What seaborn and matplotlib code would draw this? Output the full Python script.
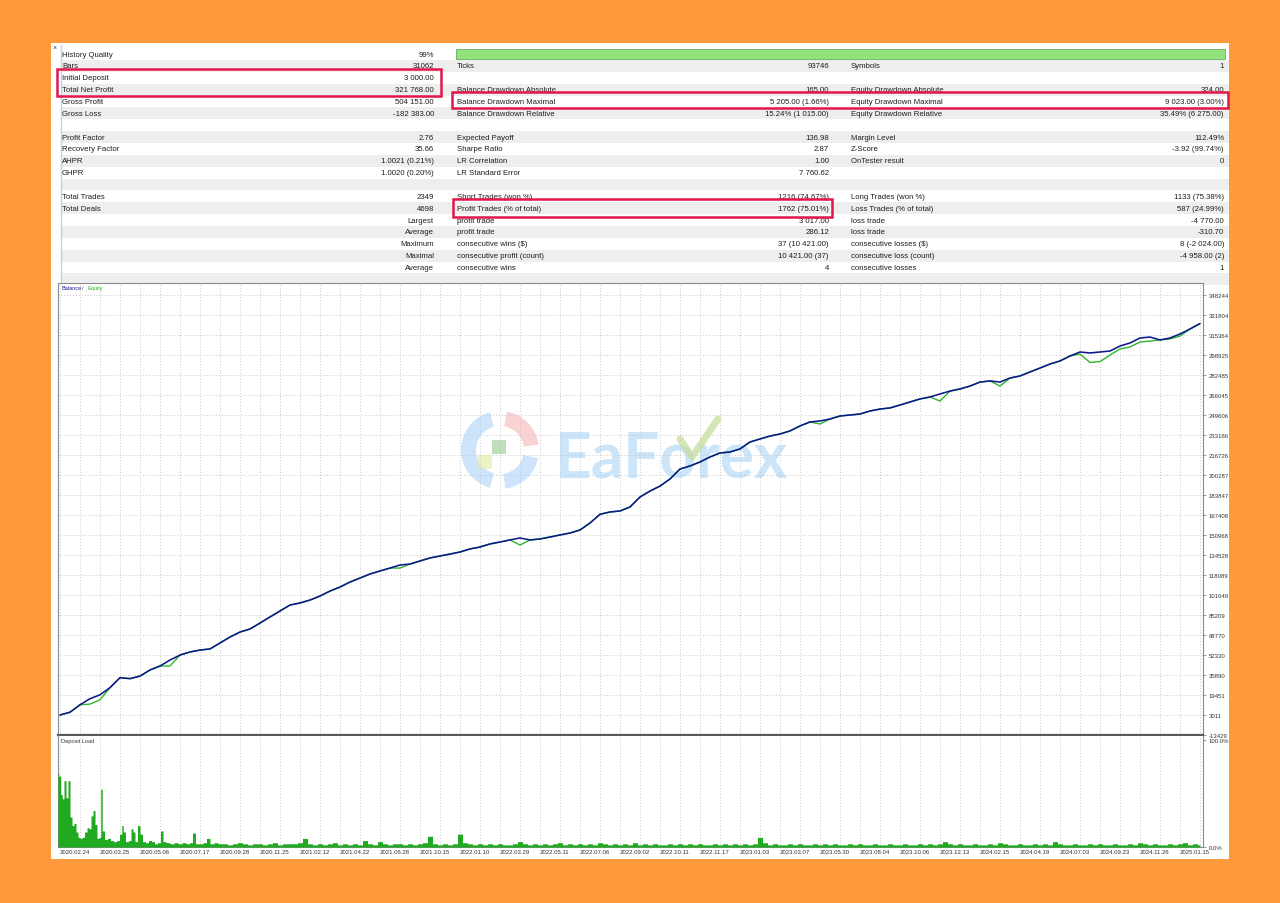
import numpy as np
import pandas as pd
import matplotlib
matplotlib.use("Agg")
import matplotlib.pyplot as plt
from matplotlib.patches import Rectangle, Wedge
import seaborn as sns

# ---------------------------------------------------------------- data
date_labels = ["2020.02.24", "2020.03.25", "2020.05.06", "2020.07.17", "2020.09.28",
               "2020.11.25", "2021.02.12", "2021.04.22", "2021.06.28", "2021.10.15",
               "2022.01.10", "2022.03.29", "2022.05.11", "2022.07.06", "2022.09.02",
               "2022.10.11", "2022.11.17", "2023.01.03", "2023.03.07", "2023.05.30",
               "2023.08.04", "2023.10.06", "2023.12.13", "2024.02.15", "2024.04.19",
               "2024.07.03", "2024.09.23", "2024.11.26", "2025.01.15"]

price_tick_labels = ["348244", "331804", "315364", "298925", "282485", "266045", "249606",
                     "233166", "216726", "200287", "183847", "167408", "150968", "134528",
                     "118089", "101649", "85209", "68770", "52330", "35890", "19451",
                     "3011", "-13429"]

# balance curve, one value per step of the deal axis
balance = [3000, 5300, 11400, 16400, 19600, 25500, 33700, 32900, 35000, 40000,
           43300, 48200, 52300, 54800, 56400, 57300, 62200, 67100, 71200, 73700,
           78600, 83600, 88500, 93400, 95100, 97500, 100800, 104900, 108200, 112300,
           115600, 118900, 121400, 123800, 126300, 127100, 129600, 132100, 133700, 135300,
           137000, 139500, 141100, 143600, 145200, 146900, 148500, 146900, 147700, 149300,
           151000, 152600, 155100, 160800, 168000, 169900, 170700, 174000, 182200, 187100,
           191200, 197000, 205200, 207700, 211000, 215100, 218400, 219200, 221700, 227400,
           229900, 232300, 234000, 236500, 240600, 243900, 244700, 246300, 248800, 249600,
           250400, 252900, 254500, 255400, 257800, 260300, 262800, 264400, 266900, 269300,
           271000, 273400, 276700, 277600, 276700, 280000, 281700, 285000, 288200, 291500,
           294000, 298100, 301400, 300600, 301400, 302200, 306300, 308800, 312900, 313700,
           311300, 312900, 316200, 320300, 324768]

equity = [3000, 5300, 11400, 12000, 15500, 25500, 33700, 32900, 35000, 40000,
          43300, 43300, 52300, 54800, 56400, 57300, 62200, 67100, 71200, 73700,
          78600, 83600, 88500, 93400, 95100, 97500, 100800, 104900, 108200, 112300,
          115600, 118900, 121400, 123800, 123800, 127100, 129600, 132100, 133700, 135300,
          137000, 139500, 141100, 143600, 145200, 146900, 142700, 146900, 147700, 149300,
          151000, 152600, 155100, 160800, 168000, 169900, 170700, 174000, 182200, 187100,
          191200, 197000, 205200, 207700, 211000, 215100, 218400, 219200, 221700, 227400,
          229900, 232300, 234000, 236500, 240600, 243900, 242200, 246300, 248800, 249600,
          250400, 252900, 254500, 255400, 257800, 260300, 262800, 264400, 261100, 269300,
          271000, 273400, 276700, 277600, 273400, 280000, 281700, 285000, 288200, 291500,
          294000, 298100, 299700, 292800, 293500, 298900, 303900, 305500, 309600, 310400,
          311300, 312100, 314500, 320300, 324768]

# deposit load (%) : dense early part (deal-axis position, value) ...
load_early_pos = [-0.2, 0.0, 0.15, 0.3, 0.5, 0.7, 0.9, 1.1, 1.3, 1.5, 1.7, 1.9, 2.1, 2.3,
                  2.6, 2.8, 3.0, 3.2, 3.4, 3.6, 3.8, 4.0, 4.15, 4.3, 4.6, 4.9, 5.2, 5.5,
                  5.8, 6.1, 6.25, 6.4, 6.7, 7.0, 7.2, 7.4, 7.6, 7.9, 8.1, 8.4, 8.7, 9.0,
                  9.3, 9.6, 9.9, 10.2, 10.4, 10.8, 11.2, 11.6, 12.0, 12.4, 12.8, 13.1,
                  13.4, 13.7, 14.1, 14.5, 14.8, 15.2, 15.6, 16.0]
load_early_pct = [68, 66, 49, 45, 62, 46, 62, 28, 20, 22, 14, 9, 8, 9,
                  14, 18, 17, 29, 34, 21, 8, 9, 54, 15, 7, 8, 6, 5,
                  6, 12, 20, 14, 5, 6, 17, 14, 5, 20, 12, 5, 4, 6,
                  5, 3, 4, 15, 5, 4, 3, 4, 3, 4, 3, 4,
                  13, 3, 3, 4, 8, 3, 4, 3]
# ... and the later part, one value every half step from 16.5 to 114
load_late_pct = [3, 2, 3, 4, 3, 2, 3, 3, 2, 3, 4, 2, 3, 3, 3,
                 4, 8, 3, 2, 3, 2, 3, 4, 2, 3, 2, 3, 2, 6, 3, 2, 5, 3, 2, 3,
                 3, 2, 3, 2, 3, 4, 10, 3, 2, 3, 2, 3, 12, 4, 3, 2, 3, 2, 3, 2,
                 3, 2, 2, 3, 5, 3, 2, 3, 2, 3, 2, 3, 4, 2, 3, 2, 3, 2, 3, 2,
                 4, 3, 2, 3, 2, 3, 2, 4, 2, 3, 2, 3, 2, 2, 3, 2, 3, 2, 3, 2,
                 3, 2, 2, 3, 2, 3, 2, 3, 2, 3, 2, 3, 9, 4, 2, 3, 2, 2, 3, 2,
                 3, 2, 2, 3, 2, 3, 2, 3, 2, 2, 3, 2, 3, 2, 2, 3, 2, 2, 3, 2,
                 2, 3, 2, 2, 3, 2, 3, 2, 3, 5, 3, 2, 3, 2, 2, 3, 2, 2, 3, 2,
                 4, 3, 2, 2, 3, 2, 2, 3, 2, 3, 2, 5, 3, 2, 2, 3, 2, 2, 3, 2,
                 3, 2, 2, 3, 2, 2, 3, 2, 4, 3, 2, 3, 2, 2, 3, 2, 3, 4, 2, 3,
                 2]

# statistics table
left_labels = ["History Quality", "Bars", "Initial Deposit", "Total Net Profit", "Gross Profit",
               "Gross Loss", "", "Profit Factor", "Recovery Factor", "AHPR", "GHPR", "",
               "Total Trades", "Total Deals", "", "", "", "", ""]
left_values = ["99%", "31062", "3 000.00", "321 768.00", "504 151.00", "-182 383.00", "",
               "2.76", "35.66", "1.0021 (0.21%)", "1.0020 (0.20%)", "", "2349", "4698",
               "Largest", "Average", "Maximum", "Maximal", "Average"]
mid_labels = ["", "Ticks", "", "Balance Drawdown Absolute", "Balance Drawdown Maximal",
              "Balance Drawdown Relative", "", "Expected Payoff", "Sharpe Ratio",
              "LR Correlation", "LR Standard Error", "", "Short Trades (won %)",
              "Profit Trades (% of total)", "profit trade", "profit trade",
              "consecutive wins ($)", "consecutive profit (count)", "consecutive wins"]
mid_values = ["", "93746", "", "165.00", "5 205.00 (1.66%)", "15.24% (1 015.00)", "",
              "136.98", "2.87", "1.00", "7 760.62", "", "1216 (74.67%)", "1762 (75.01%)",
              "3 017.00", "286.12", "37 (10 421.00)", "10 421.00 (37)", "4"]
right_labels = ["", "Symbols", "", "Equity Drawdown Absolute", "Equity Drawdown Maximal",
                "Equity Drawdown Relative", "", "Margin Level", "Z-Score", "OnTester result",
                "", "", "Long Trades (won %)", "Loss Trades (% of total)", "loss trade",
                "loss trade", "consecutive losses ($)", "consecutive loss (count)",
                "consecutive losses"]
right_values = ["", "1", "", "324.00", "9 023.00 (3.00%)", "35.49% (6 275.00)", "",
                "112.49%", "-3.92 (99.74%)", "0", "", "", "1133 (75.38%)", "587 (24.99%)",
                "-4 770.00", "-310.70", "8 (-2 024.00)", "-4 958.00 (2)", "1"]

# ---------------------------------------------------------------- style
sns.set_style("white")
plt.rcParams["font.family"] = ["Liberation Sans", "DejaVu Sans"]

W, H = 1280, 904
fig = plt.figure(figsize=(W / 100, H / 100), dpi=100)
fig.patch.set_facecolor("#FF9A3C")


def box(x0, y0, x1, y1):
    return [x0 / W, 1 - y1 / H, (x1 - x0) / W, (y1 - y0) / H]


# background layer (pixel coordinates)
bg = fig.add_axes([0, 0, 1, 1], zorder=0)
bg.set_xlim(0, W)
bg.set_ylim(H, 0)
bg.axis("off")
bg.add_patch(Rectangle((51, 44), 1178, 816, fc="white", ec="none"))

ROW0, ROWH = 49.2, 11.85
for r in range(20):
    if r % 2:
        bg.add_patch(Rectangle((61, ROW0 + r * ROWH), 1168, ROWH, fc="#EEEEEE", ec="none"))
bg.plot([60.5, 60.5], [46, 283], color="#BCD4EC", lw=1.0)
bg.text(55, 48, "×", fontsize=5, ha="center", va="center", color="#333333")

# progress bar of history quality
bg.add_patch(Rectangle((456, 49.5), 769, 10, fc="#93E37D", ec="#6DAA60", lw=0.6))

FS = 5.6
TC = "#1E1E1E"


def row_y(r):
    return ROW0 + (r + 0.5) * ROWH


for labels, values, xl, xr in [(left_labels, left_values, 62, 434),
                               (mid_labels, mid_values, 457, 829),
                               (right_labels, right_values, 851, 1224)]:
    for r, (lab, val) in enumerate(zip(labels, values)):
        if lab:
            bg.text(xl, row_y(r), lab, ha="left", va="center", fontsize=FS, color=TC)
        if val:
            bg.text(xr, row_y(r), val, ha="right", va="center", fontsize=FS, color=TC)

# ---------------------------------------------------------------- balance / equity chart
ax = fig.add_axes(box(58, 284, 1203, 736), zorder=2)
ax.set_facecolor("white")
k = np.arange(len(balance))
df = pd.DataFrame({"deal": k, "Balance": balance, "Equity": equity})

grid_kw = dict(color="#C8C8C8", ls=(0, (1, 2)), lw=0.7)

# watermark (drawn in pixel coordinates, below the curves)
wm = bg.transData
wm_alpha = 0.55
ax.add_patch(Wedge((500, 451), 39, 105, 255, width=15, transform=wm, fc="#A6CEF6",
                   ec="none", alpha=wm_alpha, zorder=1.5, clip_on=False))
ax.add_patch(Wedge((500, 451), 39, 280, 352, width=15, transform=wm, fc="#F5B0B0",
                   ec="none", alpha=wm_alpha, zorder=1.5, clip_on=False))
ax.add_patch(Wedge((500, 451), 39, 12, 82, width=15, transform=wm, fc="#A6CEF6",
                   ec="none", alpha=wm_alpha, zorder=1.5, clip_on=False))
ax.add_patch(Rectangle((492, 441), 14, 14, transform=wm, fc="#8FC485", ec="none",
                       alpha=wm_alpha, zorder=1.5, clip_on=False))
ax.add_patch(Rectangle((478, 456), 14, 14, transform=wm, fc="#DDEC98", ec="none",
                       alpha=wm_alpha, zorder=1.5, clip_on=False))
ax.text(555, 478, "EaForex", transform=wm, fontsize=46, fontweight="bold",
        family=["Lato", "DejaVu Sans"], color="#A4D0F5", alpha=wm_alpha,
        ha="left", va="baseline", zorder=1.6, clip_on=False)
ax.plot([680, 692, 718], [440, 458, 420], transform=wm, color="#C3DC98", lw=5,
        alpha=0.7, zorder=1.7, clip_on=False, solid_capstyle="round")

sns.lineplot(data=df, x="deal", y="Equity", ax=ax, color="#2DB52D", lw=1.0, zorder=3)
sns.lineplot(data=df, x="deal", y="Balance", ax=ax, color="#0B1A8A", lw=1.15, zorder=4)

yvals = [int(s) for s in price_tick_labels]
ax.set_xlim(-0.2, 114.3)
ax.set_ylim(-13429, 358108)
ax.set_xticks(np.arange(0, 115, 2))
ax.set_xticklabels([])
ax.set_yticks(yvals)
ax.yaxis.tick_right()
ax.set_yticklabels(price_tick_labels, fontsize=4.3, color="#333333")
ax.tick_params(axis="x", length=0)
ax.tick_params(axis="y", length=2.5, width=0.5, color="#777777", pad=1.5)
ax.grid(True, **grid_kw)
ax.set_xlabel("")
ax.set_ylabel("")
for s in ax.spines.values():
    s.set_color("#8A8A8A")
    s.set_linewidth(0.8)
ax.spines["bottom"].set_color("#5A5A5A")
ax.spines["bottom"].set_linewidth(1.6)

ax.text(61, 289, "Balance", transform=wm, fontsize=4.1, color="#1C1CA0", ha="left",
        va="center", clip_on=False, zorder=5)
ax.text(82.5, 289, "/", transform=wm, fontsize=4.1, color="#555555", ha="left",
        va="center", clip_on=False, zorder=5)
ax.text(87, 289, "Equity", transform=wm, fontsize=4.1, color="#2EB82E", ha="left",
        va="center", clip_on=False, zorder=5)

# ---------------------------------------------------------------- deposit load
ax2 = fig.add_axes(box(58, 737, 1203, 848), zorder=2)
ax2.set_facecolor("white")
load_pos = np.concatenate([load_early_pos, np.arange(16.5, 114.01, 0.5)])
load_pct = np.concatenate([load_early_pct, load_late_pct])
ax2.fill_between(load_pos, load_pct, step="mid", color="#1FAA1F", lw=0, zorder=3)
ax2.set_xlim(-0.2, 114.3)
ax2.set_ylim(0, 103.7)
ax2.set_xticks(np.arange(0, 113, 4))
ax2.set_xticklabels(date_labels, fontsize=4.3, color="#333333", ha="left")
ax2.set_xticks(np.arange(2, 115, 4), minor=True)
ax2.tick_params(axis="x", which="both", length=0, pad=1.2)
ax2.yaxis.tick_right()
ax2.set_yticks([0, 100])
ax2.set_yticklabels(["0.0%", "100.0%"], fontsize=4.3, color="#333333")
ax2.tick_params(axis="y", length=2.5, width=0.5, color="#777777", pad=1.5)
ax2.grid(True, which="both", axis="x", **grid_kw)
for s in ax2.spines.values():
    s.set_color("#8A8A8A")
    s.set_linewidth(0.8)
ax2.spines["top"].set_visible(False)
ax2.text(61, 741.5, "Deposit Load", transform=wm, fontsize=4.1, color="#333333",
         ha="left", va="center", clip_on=False, zorder=5)

# ---------------------------------------------------------------- highlight boxes
top = fig.add_axes([0, 0, 1, 1], zorder=10)
top.set_xlim(0, W)
top.set_ylim(H, 0)
top.axis("off")
top.patch.set_alpha(0)
for (x0, y0, x1, y1) in [(57, 70, 441, 97), (452, 93, 1228, 109), (453, 200, 832, 218)]:
    top.add_patch(Rectangle((x0, y0), x1 - x0, y1 - y0, fill=False, ec="#E3174B", lw=1.8))

fig.savefig("out.png", dpi=100, facecolor=fig.get_facecolor())
